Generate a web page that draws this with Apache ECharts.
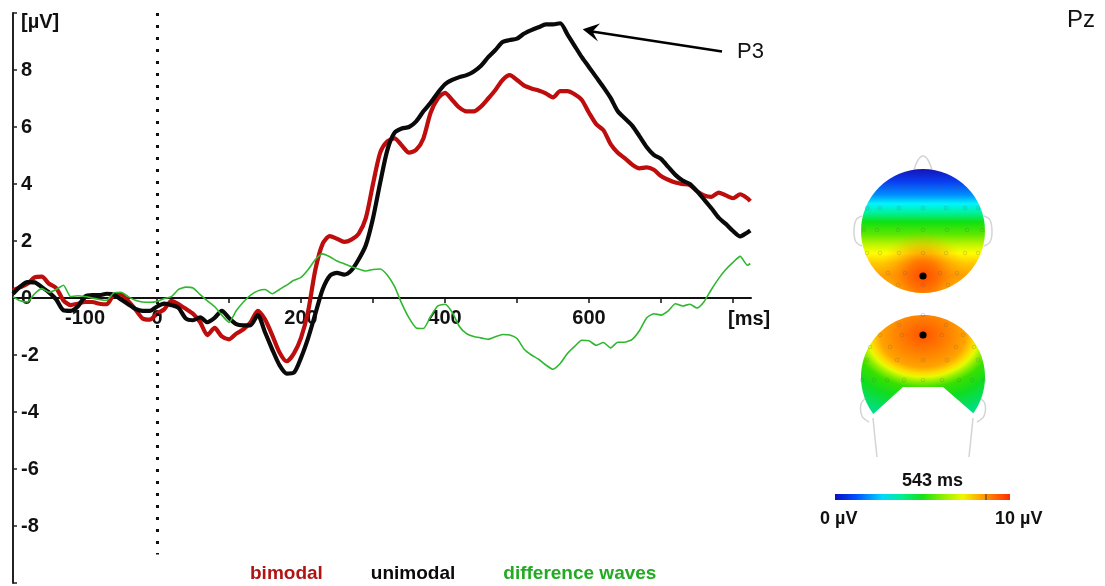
<!DOCTYPE html>
<html>
<head>
<meta charset="utf-8">
<script src="https://cdn.jsdelivr.net/npm/echarts@6/dist/echarts.min.js"></script>
<style>
  html, body { margin: 0; padding: 0; background: #ffffff; }
  #chart { width: 1105px; height: 586px; }
</style>
</head>
<body>
<div id="chart"></div>
<script>
// Time points (ms relative to stimulus onset)
const timesMs = [
  -200, -190, -180, -170, -160, -150, -140, -130, -120, -110,
  -100, -90, -80, -70, -60, -50, -40, -30, -20, -10,
  0, 10, 20, 30, 40, 50, 60, 70, 80, 90,
  100, 110, 120, 130, 140, 150, 160, 170, 180, 190,
  200, 210, 220, 230, 240, 250, 260, 270, 280, 290,
  300, 310, 320, 330, 340, 350, 360, 370, 380, 390,
  400, 410, 420, 430, 440, 450, 460, 470, 480, 490,
  500, 510, 520, 530, 540, 550, 560, 570, 580, 590,
  600, 610, 620, 630, 640, 650, 660, 670, 680, 690,
  700, 710, 720, 730, 740, 750, 760, 770, 780, 790,
  800, 810, 820, 824
];

// Grand-average ERP at Pz, in µV
const bimodal = [
  0.27, 0.38, 0.50, 0.72, 0.75, 0.50, 0.35, -0.08, -0.25, -0.20,
  -0.14, -0.14, -0.20, -0.22, 0.10, 0.12, -0.10, -0.40, -0.72, -0.76,
  -0.55, -0.40, -0.10, -0.22, -0.38, -0.55, -0.85, -1.30, -1.05, -1.35,
  -1.45, -1.25, -1.10, -0.85, -0.45, -0.75, -1.30, -1.90, -2.22, -1.95,
  -1.40, -0.45, 1.00, 1.90, 2.17, 2.08, 1.97, 2.05, 2.25, 2.80,
  4.00, 5.10, 5.50, 5.60, 5.35, 5.10, 5.20, 5.60, 6.50, 7.00,
  7.20, 6.95, 6.68, 6.55, 6.55, 6.72, 7.00, 7.30, 7.65, 7.82,
  7.65, 7.45, 7.35, 7.28, 7.18, 7.04, 7.26, 7.26, 7.15, 6.95,
  6.50, 6.10, 5.89, 5.40, 5.10, 4.90, 4.68, 4.55, 4.58, 4.50,
  4.28, 4.15, 4.05, 4.00, 3.96, 3.75, 3.60, 3.55, 3.70, 3.60,
  3.50, 3.64, 3.50, 3.40
];

const unimodal = [
  0.15, 0.40, 0.56, 0.55, 0.38, 0.20, -0.05, -0.43, -0.45, -0.30,
  0.05, 0.10, 0.10, 0.15, 0.12, -0.05, -0.22, -0.38, -0.45, -0.45,
  -0.30, -0.20, -0.25, -0.35, -0.72, -0.78, -0.68, -0.85, -0.70, -0.45,
  -0.70, -0.92, -0.96, -0.95, -0.60, -1.20, -1.80, -2.35, -2.65, -2.62,
  -2.10, -1.40, -0.55, 0.30, 0.78, 0.88, 0.82, 0.97, 1.35, 1.85,
  2.80, 4.05, 5.20, 5.80, 5.95, 6.00, 6.20, 6.55, 6.85, 7.20,
  7.50, 7.65, 7.75, 7.82, 7.95, 8.15, 8.45, 8.70, 8.98, 9.05,
  9.10, 9.28, 9.40, 9.50, 9.60, 9.60, 9.64, 9.25, 8.85, 8.45,
  8.10, 7.75, 7.40, 7.02, 6.55, 6.30, 6.05, 5.68, 5.30, 5.02,
  4.88, 4.60, 4.32, 4.12, 4.00, 3.75, 3.45, 3.15, 2.82, 2.60,
  2.35, 2.16, 2.30, 2.37
];

const difference = [
  0.05, -0.10, -0.14, 0.15, 0.33, 0.20, 0.30, 0.45, 0.05, 0.08,
  0.05, 0.00, -0.05, -0.08, 0.18, 0.20, 0.05, -0.08, -0.14, -0.15,
  -0.12, -0.02, 0.05, 0.30, 0.38, 0.35, 0.12, -0.10, -0.30, -0.60,
  -0.85, -0.45, -0.14, 0.10, 0.25, 0.30, 0.15, 0.30, 0.45, 0.62,
  0.72, 1.00, 1.35, 1.55, 1.45, 1.30, 1.20, 1.10, 1.02, 0.95,
  1.00, 1.02, 0.80, 0.40, -0.20, -0.70, -1.05, -1.07, -0.65, -0.28,
  -0.22, -0.50, -1.00, -1.25, -1.35, -1.40, -1.45, -1.36, -1.28, -1.30,
  -1.42, -1.80, -2.00, -2.15, -2.35, -2.50, -2.30, -1.95, -1.70, -1.48,
  -1.50, -1.66, -1.56, -1.75, -1.55, -1.55, -1.45, -1.15, -0.70, -0.55,
  -0.60, -0.45, -0.20, -0.28, -0.22, -0.35, -0.12, 0.30, 0.68, 1.00,
  1.25, 1.46, 1.15, 1.21
];

const seriesNames = ['bimodal', 'unimodal', 'difference waves'];
const xTickValues = [-100, 0, 100, 200, 300, 400, 500, 600, 700, 800];
const xLabelValues = [-100, 0, 200, 400, 600];
const yTickValues = [-10, -8, -6, -4, -2, 0, 2, 4, 6, 8, 10];
const yLabelValues = [-8, -6, -4, -2, 0, 2, 4, 6, 8];
const stimulusOnsetMs = 0;
const topoLatency = '543 ms';
const scaleMinLabel = '0 µV';
const scaleMaxLabel = '10 µV';
const channelName = 'Pz';
const peakName = 'P3';

const FONT = '"Liberation Sans", Arial, sans-serif';
const RED = '#bd0d0d';
const BLACK = '#0a0a0a';
const GREEN = '#2fb82f';

// plot area: 10 µV at the top edge, -10 µV at the bottom edge
const GRID = { left: 13, top: 13, width: 738, height: 570 };

function pairs(values) {
  return timesMs.map((t, i) => [t, values[i]]);
}

// ---------- scalp maps (decorative topography) ----------
const head1 = { cx: 923, cy: 231, r: 62, dotY: 276 };
const head2 = { cx: 923, cy: 377, r: 62, dotY: 335, squash: 0.75 };

function head2Outline() {
  const pts = [];
  const a0 = 143.3, a1 = 396.2;
  for (let a = a0; a <= a1 + 0.01; a += 2.5) {
    const rad = a * Math.PI / 180;
    pts.push([head2.cx + head2.r * Math.cos(rad), head2.cy + head2.r * Math.sin(rad)]);
  }
  pts.push([943, 387], [903, 387]);
  // stretch vertically so a circular gradient reads as an ellipse after squashing
  return pts.map(p => [p[0], head2.dotY + (p[1] - head2.dotY) / head2.squash]);
}

const electrodes1 = [
  [-35, -43], [-18, -43], [0, -43], [17, -43], [34, -43],
  [-56, -23], [-43, -23], [-24, -23], [0, -23], [23, -23], [42, -23], [55, -23],
  [-59, -1], [-46, -1], [-25, -1], [0, -1], [24, -1], [44, -1], [59, -1],
  [-56, 22], [-43, 22], [-24, 22], [0, 22], [23, 22], [42, 22], [55, 22],
  [-35, 42], [-18, 42], [17, 42], [34, 42],
  [-25, 54], [0, 54], [25, 54]
];
const electrodes2 = [
  [0, -20], [-24, -10], [23, -10],
  [-43, 0], [-21, 0], [19, 0], [40, 0],
  [-53, 12], [-33, 12], [33, 12], [51, 12],
  [-56, 25], [-26, 25], [0, 25], [24, 25], [55, 25],
  [-61, 45], [-49, 45], [-36, 45], [-19, 45], [0, 45], [19, 45], [36, 45], [49, 45], [61, 45]
];

const topoElements = [];

// outline: nose + ears (top view), ears + neck (back view)
const outlineStyle = { stroke: '#d4d4d4', lineWidth: 1.5, fill: null };
topoElements.push(
  { type: 'polyline', shape: { points: [[914, 170], [918, 160], [923, 156], [928, 160], [932, 170]], smooth: 0.4 }, style: outlineStyle, z: 1 },
  { type: 'polyline', shape: { points: [[862, 216], [856, 220], [854, 232], [856, 242], [862, 246]], smooth: 0.4 }, style: outlineStyle, z: 1 },
  { type: 'polyline', shape: { points: [[984, 216], [990, 220], [992, 232], [990, 242], [984, 246]], smooth: 0.4 }, style: outlineStyle, z: 1 },
  { type: 'polyline', shape: { points: [[866, 398], [861, 404], [862, 416], [869, 422]], smooth: 0.4 }, style: outlineStyle, z: 1 },
  { type: 'polyline', shape: { points: [[980, 398], [985, 404], [984, 416], [977, 422]], smooth: 0.4 }, style: outlineStyle, z: 1 },
  { type: 'polyline', shape: { points: [[873, 418], [875, 438], [877, 457]], smooth: 0.4 }, style: outlineStyle, z: 1 },
  { type: 'polyline', shape: { points: [[973, 418], [971, 438], [969, 457]], smooth: 0.4 }, style: outlineStyle, z: 1 }
);

// top view: front-to-back gradient
topoElements.push({
  type: 'circle', z: 2,
  shape: { cx: head1.cx, cy: head1.cy, r: head1.r },
  style: {
    fill: new echarts.graphic.LinearGradient(0, head1.cy - head1.r, 0, head1.cy + head1.r, [
      { offset: 0.00, color: '#1414b8' },
      { offset: 0.10, color: '#0a3cf0' },
      { offset: 0.21, color: '#0090ff' },
      { offset: 0.28, color: '#00f4ff' },
      { offset: 0.35, color: '#00f0a0' },
      { offset: 0.43, color: '#10e010' },
      { offset: 0.53, color: '#60e800' },
      { offset: 0.61, color: '#c0f400' },
      { offset: 0.68, color: '#ffff00' },
      { offset: 0.76, color: '#ffc800' },
      { offset: 0.86, color: '#ffa000' },
      { offset: 1.00, color: '#ffc400' }
    ], true)
  }
});
topoElements.push({
  type: 'circle', z: 3,
  shape: { cx: head1.cx, cy: head1.cy, r: head1.r },
  style: {
    fill: new echarts.graphic.RadialGradient(head1.cx, head1.dotY, 44, [
      { offset: 0.0, color: 'rgba(255,70,0,0.95)' },
      { offset: 0.35, color: 'rgba(255,95,0,0.75)' },
      { offset: 0.7, color: 'rgba(255,125,0,0.3)' },
      { offset: 1.0, color: 'rgba(255,150,0,0)' }
    ], true)
  }
});

// back view: elliptical maximum over parietal sites
topoElements.push({
  type: 'polygon', z: 2,
  originX: head2.cx, originY: head2.dotY, scaleY: head2.squash,
  shape: { points: head2Outline() },
  style: {
    fill: new echarts.graphic.RadialGradient(head2.cx, head2.dotY, 130, [
      { offset: 0.00, color: '#ff5200' },
      { offset: 0.10, color: '#ff6c00' },
      { offset: 0.22, color: '#ff8800' },
      { offset: 0.33, color: '#ffa400' },
      { offset: 0.39, color: '#ffd800' },
      { offset: 0.43, color: '#e6fa00' },
      { offset: 0.48, color: '#90ee00' },
      { offset: 0.54, color: '#38e000' },
      { offset: 0.66, color: '#10dc20' },
      { offset: 0.85, color: '#00de80' },
      { offset: 1.00, color: '#00e0b0' }
    ], true)
  }
});

electrodes1.forEach(p => topoElements.push({
  type: 'circle', z: 4, silent: true,
  shape: { cx: head1.cx + p[0], cy: head1.cy + p[1], r: 1.8 },
  style: { fill: null, stroke: 'rgba(90,90,90,0.28)', lineWidth: 0.8 }
}));
electrodes2.forEach(p => topoElements.push({
  type: 'circle', z: 4, silent: true,
  shape: { cx: head2.cx + p[0], cy: head2.dotY + p[1], r: 1.8 },
  style: { fill: null, stroke: 'rgba(90,90,90,0.28)', lineWidth: 0.8 }
}));

// Pz marker
topoElements.push(
  { type: 'circle', z: 5, shape: { cx: head1.cx, cy: head1.dotY, r: 3.6 }, style: { fill: '#000' } },
  { type: 'circle', z: 5, shape: { cx: head2.cx, cy: head2.dotY, r: 3.6 }, style: { fill: '#000' } }
);

// colour scale
topoElements.push(
  {
    type: 'rect', z: 2,
    shape: { x: 835, y: 494, width: 175, height: 6 },
    style: {
      fill: new echarts.graphic.LinearGradient(0, 0, 1, 0, [
        { offset: 0.00, color: '#0a10c0' },
        { offset: 0.12, color: '#0050ff' },
        { offset: 0.27, color: '#00d8ff' },
        { offset: 0.38, color: '#00f090' },
        { offset: 0.50, color: '#18e018' },
        { offset: 0.62, color: '#90f000' },
        { offset: 0.73, color: '#f0f800' },
        { offset: 0.84, color: '#ffa000' },
        { offset: 1.00, color: '#ff2a00' }
      ])
    }
  },
  { type: 'line', z: 3, shape: { x1: 986, y1: 494, x2: 986, y2: 500 }, style: { stroke: '#333', lineWidth: 1 } },
  { type: 'text', z: 3, x: 902, y: 481, style: { text: topoLatency, font: 'bold 18px ' + FONT, fill: '#111', verticalAlign: 'middle' } },
  { type: 'text', z: 3, x: 820, y: 519, style: { text: scaleMinLabel, font: 'bold 18px ' + FONT, fill: '#111', verticalAlign: 'middle' } },
  { type: 'text', z: 3, x: 995, y: 519, style: { text: scaleMaxLabel, font: 'bold 18px ' + FONT, fill: '#111', verticalAlign: 'middle' } }
);

// axis titles, channel name and peak annotation
const annotationElements = [
  { type: 'text', x: 21, y: 22, style: { text: '[µV]', font: 'bold 20px ' + FONT, fill: '#111', verticalAlign: 'middle' } },
  { type: 'text', x: 728, y: 319, style: { text: '[ms]', font: 'bold 20px ' + FONT, fill: '#111', verticalAlign: 'middle' } },
  { type: 'text', x: 1067, y: 20, style: { text: channelName, font: '24px ' + FONT, fill: '#111', verticalAlign: 'middle' } },
  { type: 'text', x: 737, y: 52, style: { text: peakName, font: '22px ' + FONT, fill: '#111', verticalAlign: 'middle' } },
  { type: 'line', shape: { x1: 722, y1: 51.5, x2: 592, y2: 31.5 }, style: { stroke: '#000', lineWidth: 2.6 } },
  { type: 'polygon', shape: { points: [[582.7, 29.3], [600, 23.5], [592.5, 31.6], [598, 41.5]] }, style: { fill: '#000' } }
];

const chart = echarts.init(document.getElementById('chart'), null, { renderer: 'canvas' });

const option = {
  animation: false,
  backgroundColor: '#ffffff',
  textStyle: { fontFamily: FONT },
  grid: {
    left: GRID.left, top: GRID.top, width: GRID.width, height: GRID.height,
    containLabel: false, outerBoundsMode: 'none'
  },
  legend: {
    left: 240, top: 559,
    icon: 'none', itemWidth: 0, itemHeight: 0, itemGap: 43,
    selectedMode: false,
    textStyle: { fontSize: 19, fontWeight: 'bold', fontFamily: FONT },
    data: [
      { name: seriesNames[0], textStyle: { color: '#b01414' } },
      { name: seriesNames[1], textStyle: { color: '#0a0a0a' } },
      { name: seriesNames[2], textStyle: { color: '#22aa22' } }
    ]
  },
  xAxis: {
    type: 'value', min: -200, max: 825, interval: 100,
    position: 'bottom',
    // time axis drawn through 0 µV (the middle of the plot area)
    offset: -GRID.height / 2,
    splitLine: { show: false },
    axisLine: { onZero: false, lineStyle: { color: '#111', width: 2 } },
    axisTick: { show: true, length: 5, customValues: xTickValues, lineStyle: { color: '#111', width: 1.5 } },
    axisLabel: {
      customValues: xLabelValues, margin: 10,
      color: '#111', fontSize: 20, fontWeight: 'bold', fontFamily: FONT
    }
  },
  yAxis: {
    type: 'value', min: -10, max: 10, interval: 2,
    splitLine: { show: false },
    axisLine: { onZero: false, lineStyle: { color: '#222', width: 2 } },
    axisTick: { show: true, inside: true, length: 4, customValues: yTickValues, lineStyle: { color: '#222', width: 1.5 } },
    axisLabel: {
      inside: true, customValues: yLabelValues, margin: 8,
      color: '#111', fontSize: 20, fontWeight: 'bold', fontFamily: FONT,
      padding: [5, 0, 0, 0]
    }
  },
  graphic: { elements: topoElements.concat(annotationElements) },
  series: [
    {
      name: seriesNames[0], type: 'line', data: pairs(bimodal),
      showSymbol: false, smooth: 0.25, z: 3,
      lineStyle: { color: RED, width: 4.2 }, itemStyle: { color: RED },
      emphasis: { disabled: true }
    },
    {
      name: seriesNames[1], type: 'line', data: pairs(unimodal),
      showSymbol: false, smooth: 0.25, z: 4,
      lineStyle: { color: BLACK, width: 4.2 }, itemStyle: { color: BLACK },
      emphasis: { disabled: true },
      markLine: {
        silent: true, symbol: ['none', 'none'],
        label: { show: false },
        lineStyle: { color: '#111', width: 3, type: [3, 9] },
        emphasis: { disabled: true },
        data: [[{ coord: [stimulusOnsetMs, 10] }, { coord: [stimulusOnsetMs, -9] }]]
      }
    },
    {
      name: seriesNames[2], type: 'line', data: pairs(difference),
      showSymbol: false, smooth: 0.2, z: 5,
      lineStyle: { color: GREEN, width: 1.6 }, itemStyle: { color: GREEN },
      emphasis: { disabled: true }
    }
  ]
};

chart.setOption(option);
</script>
</body>
</html>
